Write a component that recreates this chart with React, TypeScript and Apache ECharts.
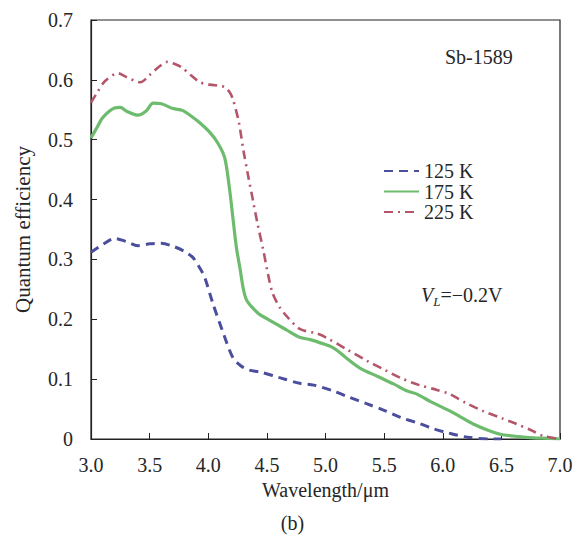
import React, { useEffect, useRef } from "react";
import * as echarts from "echarts";

const seriesNames = ["125 K", "175 K", "225 K"];

const blueX = [3.0, 3.1, 3.2, 3.3, 3.4, 3.5, 3.6, 3.7, 3.8, 3.87, 3.93, 3.97, 4.04, 4.13, 4.21, 4.28, 4.35, 4.44, 4.6, 4.78, 4.9, 5.07, 5.2, 5.35, 5.5, 5.64, 5.8, 5.92, 6.05, 6.21, 6.4, 6.5];
const blueY = [0.312, 0.325, 0.335, 0.33, 0.323, 0.326, 0.327, 0.322, 0.313, 0.303, 0.285, 0.27, 0.226, 0.176, 0.136, 0.122, 0.115, 0.112, 0.103, 0.093, 0.09, 0.08, 0.07, 0.059, 0.048, 0.036, 0.026, 0.017, 0.01, 0.003, 0.0, 0.0];

const greenX = [3.0, 3.05, 3.1, 3.2, 3.25, 3.3, 3.4, 3.47, 3.53, 3.6, 3.7, 3.78, 3.85, 3.93, 4.01, 4.08, 4.14, 4.18, 4.21, 4.24, 4.27, 4.3, 4.33, 4.42, 4.5, 4.67, 4.78, 4.87, 4.95, 5.07, 5.18, 5.29, 5.45, 5.58, 5.7, 5.78, 5.9, 6.06, 6.15, 6.26, 6.38, 6.49, 6.65, 6.77, 6.9, 7.0];
const greenY = [0.503, 0.52, 0.537, 0.553, 0.554, 0.548, 0.541, 0.548, 0.561, 0.56, 0.552, 0.549, 0.54, 0.528, 0.513, 0.495, 0.47, 0.42, 0.37, 0.32, 0.286, 0.25, 0.231, 0.211, 0.201, 0.182, 0.17, 0.166, 0.161, 0.152, 0.135, 0.119, 0.104, 0.092, 0.08, 0.075, 0.062, 0.047, 0.037, 0.025, 0.015, 0.008, 0.004, 0.002, 0.001, 0.0];

const redX = [3.0, 3.05, 3.12, 3.23, 3.3, 3.42, 3.5, 3.58, 3.65, 3.72, 3.78, 3.85, 3.93, 4.01, 4.1, 4.14, 4.18, 4.21, 4.26, 4.3, 4.34, 4.38, 4.42, 4.47, 4.51, 4.55, 4.61, 4.67, 4.78, 4.93, 5.01, 5.18, 5.35, 5.5, 5.64, 5.8, 5.95, 6.06, 6.2, 6.34, 6.5, 6.63, 6.75, 6.86, 7.0];
const redY = [0.562, 0.578, 0.598, 0.611, 0.605, 0.596, 0.608, 0.622, 0.63, 0.626, 0.62, 0.608, 0.596, 0.592, 0.59, 0.588, 0.58, 0.568, 0.53, 0.482, 0.44, 0.4, 0.36, 0.315, 0.275, 0.243, 0.22, 0.205, 0.184, 0.176, 0.169, 0.15, 0.131, 0.116, 0.102, 0.09, 0.082, 0.075, 0.06, 0.047, 0.035, 0.025, 0.015, 0.005, 0.0];

const xTicks = [3.0, 3.5, 4.0, 4.5, 5.0, 5.5, 6.0, 6.5, 7.0];
const yTicks = [0, 0.1, 0.2, 0.3, 0.4, 0.5, 0.6, 0.7];

const FONT = "'Liberation Serif', 'DejaVu Serif', serif";
const TXT = "#262626";

function pairs(xs: number[], ys: number[]) {
  return xs.map((x, i) => [x, ys[i]]);
}

export default function App() {
  const ref = useRef<HTMLDivElement>(null);
  useEffect(() => {
    if (!ref.current) return;
    const chart = echarts.init(ref.current, undefined, { renderer: "svg" });
    chart.setOption({
      animation: false,
      backgroundColor: "#fff",
      grid: {
        left: 91,
        right: 25,
        top: 20,
        bottom: 99,
        show: true,
        borderColor: "#222",
        borderWidth: 1.2,
      },
      legend: {
        orient: "vertical",
        left: 378,
        top: 156,
        itemWidth: 35,
        itemHeight: 12,
        itemGap: 0.5,
        data: seriesNames,
        itemStyle: { opacity: 0 },
        textStyle: { fontFamily: FONT, fontSize: 20, lineHeight: 20, color: TXT },
      },
      xAxis: {
        type: "value",
        min: xTicks[0],
        max: xTicks[xTicks.length - 1],
        interval: 0.5,
        name: "Wavelength/μm",
        nameLocation: "middle",
        nameGap: 40,
        nameTextStyle: { fontFamily: FONT, fontSize: 20, color: TXT },
        axisLine: { show: true, lineStyle: { color: "#222", width: 1.2 } },
        axisTick: { show: true, inside: true, length: 6, lineStyle: { color: "#222" } },
        axisLabel: {
          fontFamily: FONT,
          fontSize: 20,
          color: TXT,
          margin: 16,
          formatter: (v: number) => v.toFixed(1),
        },
        splitLine: { show: false },
      },
      yAxis: {
        type: "value",
        min: yTicks[0],
        max: yTicks[yTicks.length - 1],
        interval: 0.1,
        name: "Quantum efficiency",
        nameLocation: "middle",
        nameGap: 58,
        nameRotate: 90,
        nameTextStyle: { fontFamily: FONT, fontSize: 21, color: TXT },
        axisLine: { show: true, lineStyle: { color: "#222", width: 1.2 } },
        axisTick: { show: true, inside: true, length: 6, lineStyle: { color: "#222" } },
        axisLabel: {
          fontFamily: FONT,
          fontSize: 20,
          color: TXT,
          margin: 18,
          padding: [0, 0, 4, 0],
          formatter: (v: number) => (v === 0 ? "0" : v.toFixed(1)),
        },
        splitLine: { show: false },
      },
      series: [
        {
          name: seriesNames[0],
          type: "line",
          symbol: "none",
          smooth: 0.3,
          data: pairs(blueX, blueY),
          lineStyle: { color: "#4b4e9d", width: 3, type: [9, 6] },
          itemStyle: { color: "#4b4e9d" },
        },
        {
          name: seriesNames[1],
          type: "line",
          symbol: "none",
          smooth: 0.3,
          data: pairs(greenX, greenY),
          lineStyle: { color: "#6dbb6d", width: 3.2 },
          itemStyle: { color: "#6dbb6d" },
        },
        {
          name: seriesNames[2],
          type: "line",
          symbol: "none",
          smooth: 0.3,
          data: pairs(redX, redY),
          lineStyle: { color: "#b4566a", width: 2.6, type: [9, 5, 2, 5] },
          itemStyle: { color: "#b4566a" },
        },
      ],
      graphic: [
        {
          type: "text",
          left: 445,
          top: 47,
          style: { text: "Sb-1589", fontFamily: FONT, fontSize: 20, fill: TXT },
        },
        {
          type: "text",
          left: 421,
          top: 285,
          style: {
            text: "{v|V}{l|L}{n|=−0.2V}",
            fontFamily: FONT,
            fontSize: 20,
            fill: TXT,
            rich: {
              v: { fontFamily: FONT, fontSize: 20, fontStyle: "italic", fill: TXT },
              l: { fontFamily: FONT, fontSize: 13, fontStyle: "italic", fill: TXT, padding: [12, 0, 0, 0] },
              n: { fontFamily: FONT, fontSize: 20, fill: TXT },
            },
          },
        },
        {
          type: "text",
          left: "center",
          top: 513,
          style: { text: "(b)", fontFamily: FONT, fontSize: 20, fill: TXT },
        },
      ],
    });
    return () => chart.dispose();
  }, []);
  return (
    <div
      ref={ref}
      style={{ position: "fixed", left: 0, top: 0, width: 585, height: 538 }}
    />
  );
}
